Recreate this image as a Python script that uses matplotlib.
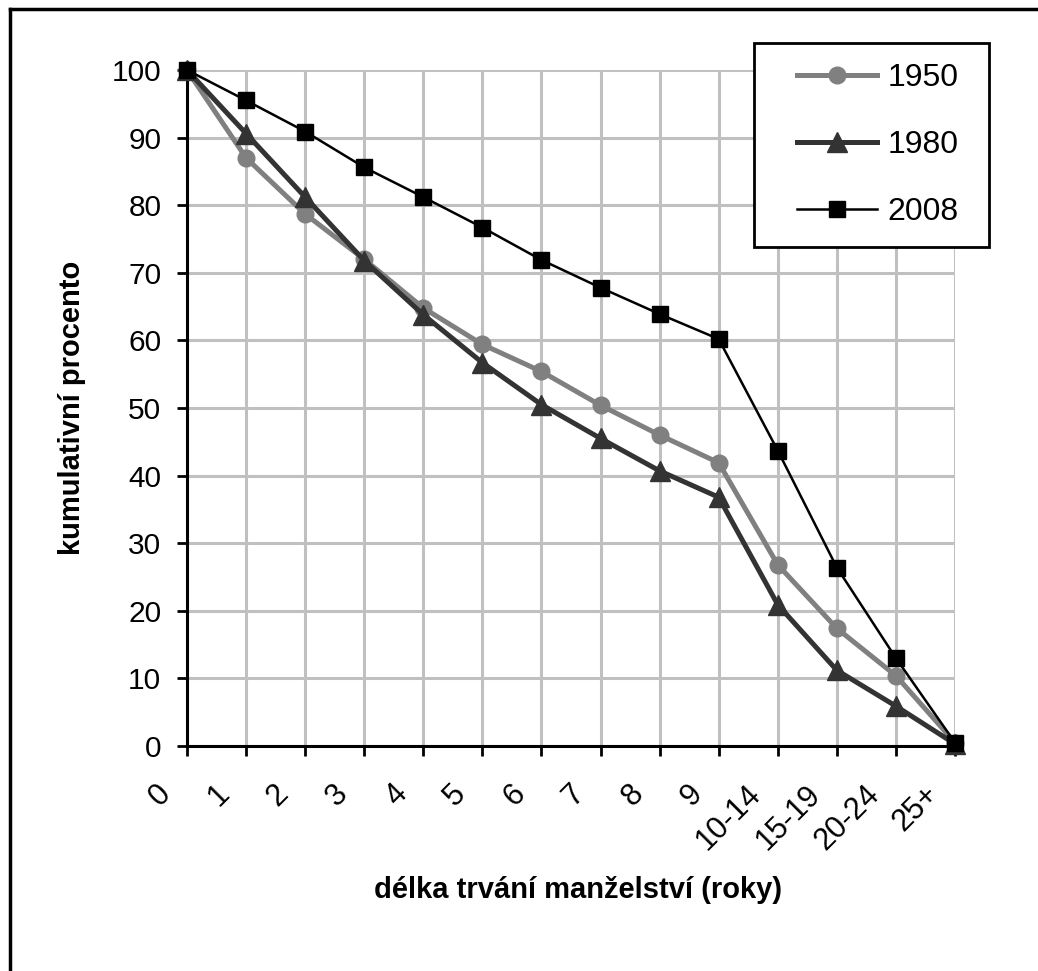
import matplotlib
matplotlib.use("Agg")
import matplotlib.pyplot as plt
from matplotlib.lines import Line2D
from matplotlib.patches import Rectangle
from matplotlib.transforms import ScaledTranslation

categories = ["0", "1", "2", "3", "4", "5", "6", "7", "8", "9",
              "10-14", "15-19", "20-24", "25+"]
y1950 = [100, 87.0, 78.7, 72.0, 64.8, 59.4, 55.4, 50.4, 46.0, 41.9, 26.8, 17.4, 10.4, 0.5]
y1980 = [100, 90.6, 81.2, 71.8, 63.8, 56.7, 50.5, 45.5, 40.7, 36.8, 20.9, 11.2, 5.9, 0.3]
y2008 = [100, 95.5, 90.9, 85.6, 81.2, 76.7, 71.9, 67.8, 63.9, 60.2, 43.7, 26.4, 13.0, 0.5]
series_names = ["1950", "1980", "2008"]
yticks = [0, 10, 20, 30, 40, 50, 60, 70, 80, 90, 100]

W, H = 1038, 971
plt.rcParams['font.family'] = ['Liberation Sans', 'DejaVu Sans']
fig = plt.figure(figsize=(W / 100, H / 100), dpi=100)

ax = fig.add_axes([187 / W, 1 - 746 / H, (955 - 187) / W, (746 - 70) / H])
x = list(range(len(categories)))

ax.plot(x, y1950, color="#808080", lw=3.6, marker="o", ms=12, label=series_names[0],
        clip_on=False, zorder=3)
ax.plot(x, y1980, color="#333333", lw=3.6, marker="^", ms=14, label=series_names[1],
        clip_on=False, zorder=4)
ax.plot(x, y2008, color="#000000", lw=1.8, marker="s", ms=12, label=series_names[2],
        clip_on=False, zorder=5)

ax.set_xlim(0, len(categories) - 1)
ax.set_ylim(0, 100)
ax.set_xticks(x)
ax.set_xticklabels(categories, rotation=45, ha="right", va="center",
                   rotation_mode="anchor", fontsize=22)
ax.set_yticks(yticks)
ax.set_yticklabels([str(v) for v in yticks], fontsize=21.5)
ax.grid(True, color="#C0C0C0", lw=2.2)
ax.set_axisbelow(True)
for s in ["top", "right"]:
    ax.spines[s].set_visible(False)
for s in ["left", "bottom"]:
    ax.spines[s].set_linewidth(2.2)
    ax.spines[s].set_color("black")
    ax.spines[s].set_zorder(2.5)
ax.tick_params(axis="both", direction="out", length=7, width=2, color="black")
ax.tick_params(axis="y", pad=11.5)
ax.tick_params(axis="x", pad=0)
# rotated x labels: right end sits left of and below the tick
offset = ScaledTranslation(-21 / 100, -34 / 100, fig.dpi_scale_trans)
for lab in ax.get_xticklabels():
    lab.set_transform(lab.get_transform() + offset)

ax.set_ylabel("kumulativní procento", fontsize=21, fontweight="bold")
ax.yaxis.set_label_coords((72 - 187) / (955 - 187), 0.5)
ax.yaxis.label.set_va("center")
ax.set_xlabel("délka trvání manželství (roky)", fontsize=21, fontweight="bold")
ax.xaxis.set_label_coords((578 - 187) / (955 - 187), -(890 - 746) / (746 - 70))
ax.xaxis.label.set_va("center")

# legend (frame drawn separately to match the reference box)
leg = fig.legend(loc="upper left", bbox_to_anchor=(797 / W, 1 - 63 / H), fontsize=23,
                 frameon=False, handlelength=2.5, handletextpad=0.34,
                 labelspacing=1.16, borderpad=0, borderaxespad=0)
fig.add_artist(Rectangle((754 / W, 1 - 247 / H), (989 - 754) / W, (247 - 43) / H,
                         transform=fig.transFigure, facecolor="white",
                         edgecolor="black", lw=2, zorder=1.9))
leg.set_zorder(2)

# figure border (top and left)
fig.add_artist(Line2D([10 / W, 10 / W], [0, 1 - 9.5 / H], color="black", lw=2.5,
                      transform=fig.transFigure))
fig.add_artist(Line2D([10 / W, 1], [1 - 9.5 / H, 1 - 9.5 / H], color="black", lw=2.5,
                      transform=fig.transFigure))

fig.savefig("out.png", dpi=100)
